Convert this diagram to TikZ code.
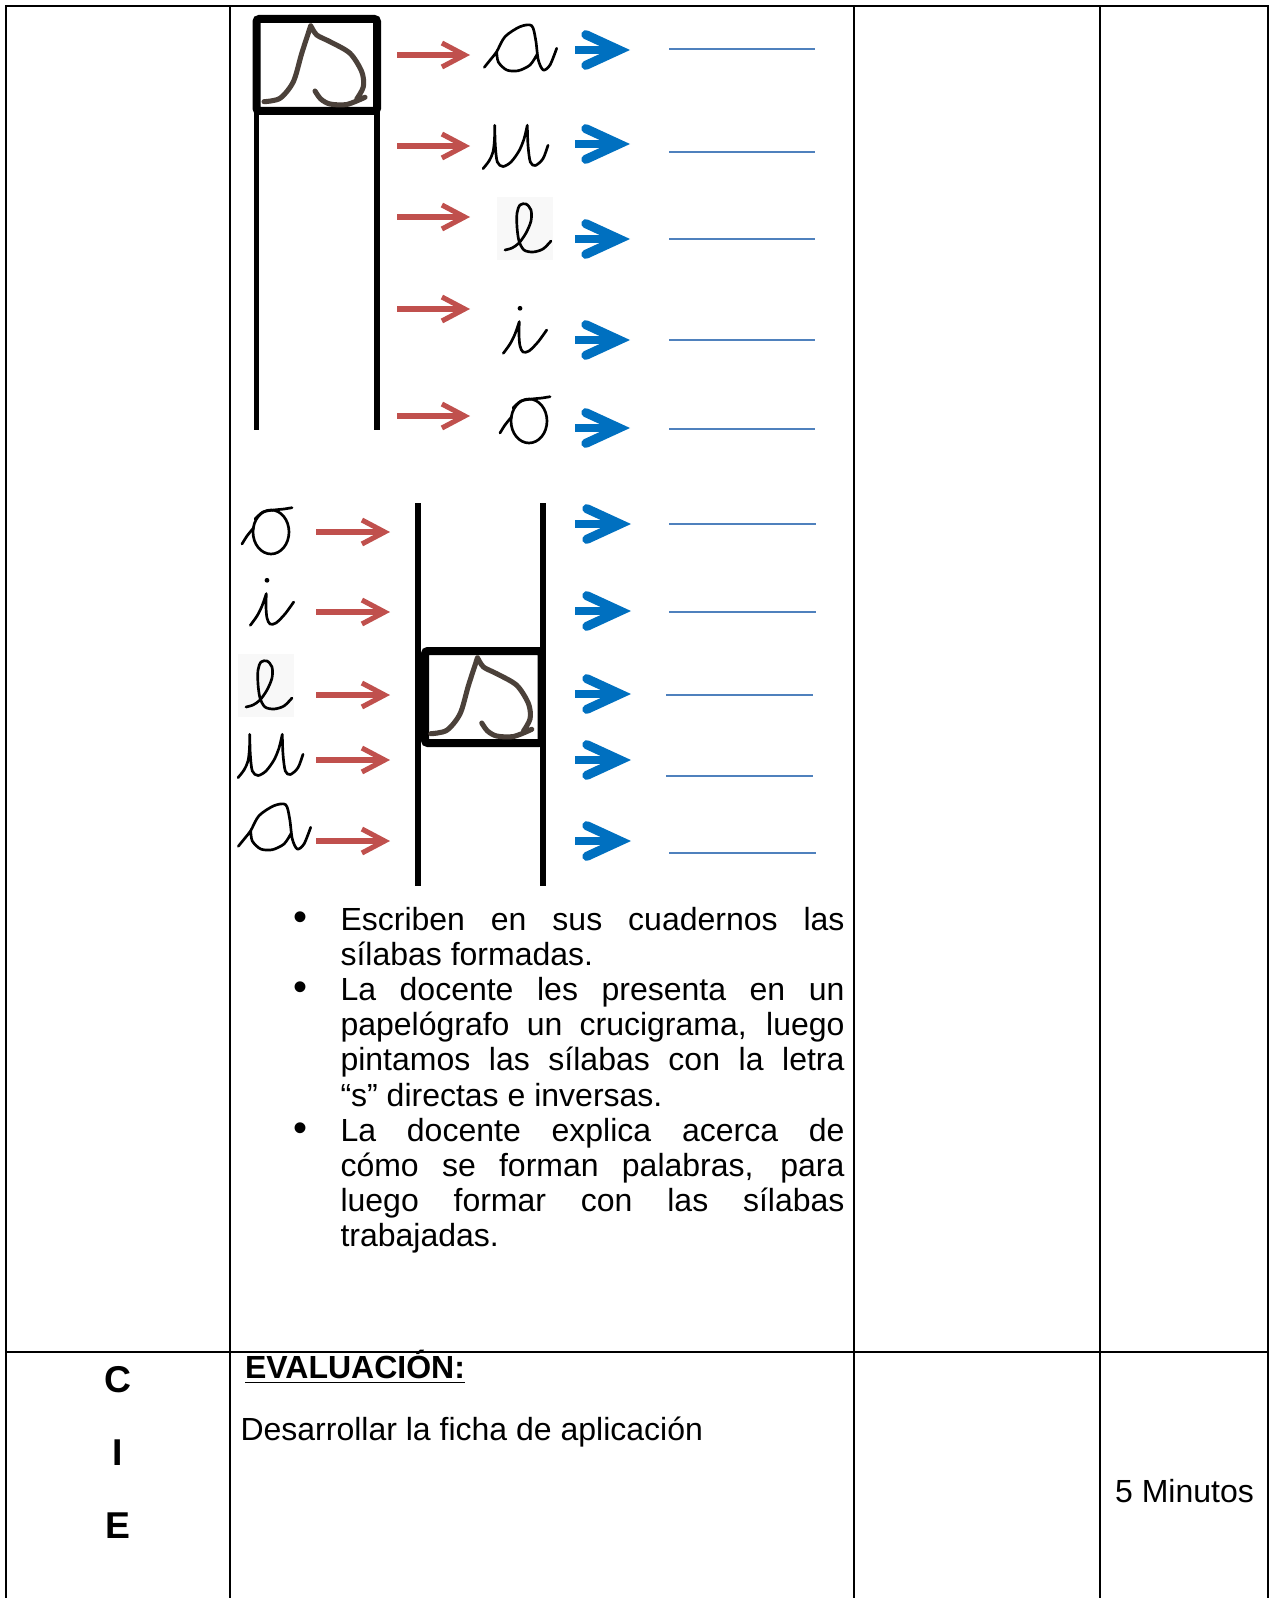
\documentclass[tikz,border=0pt]{standalone}
\usepackage{fontspec}
\setmainfont{Liberation Sans}
\usetikzlibrary{arrows.meta}
\definecolor{flecharoja}{RGB}{192,80,77}
\definecolor{flechaazul}{RGB}{0,112,192}
\definecolor{lineaazul}{RGB}{79,129,189}
\definecolor{tinta}{RGB}{75,65,58}
\definecolor{fondo}{RGB}{248,248,248}
\tikzset{
  tabla/.style={line width=0.75pt},
  marco/.style={line width=3pt, rounded corners=1pt},
  barra/.style={line width=2pt},
  rojo/.style={line width=1.9pt, draw=flecharoja,
               -{Straight Barb[length=8.5pt, width=9pt]}},
  azul/.style={line width=3pt, draw=flechaazul,
               -{Straight Barb[length=12.5pt, width=11.5pt, line width=3.4pt,
                 line cap=round]}},
  renglon/.style={line width=0.8pt, draw=lineaazul},
  trazo/.style={line width=1pt, line cap=round, line join=round},
  texto/.style={inner sep=0pt, font=\fontsize{12}{13.2}\selectfont},
  letrero/.style={inner sep=0pt, font=\fontsize{14}{14}\selectfont\bfseries},
  % letras cursivas (origen arriba a la izquierda)
  letra a/.pic={
    \draw[trazo] plot[smooth] coordinates {(1.3,42.3) (8,34) (13.7,26.7)
        (22,11.7) (37,1.7) (48.7,0.7) (52.7,15) (55.3,35) (60.3,45) (67,40)
        (73.7,23.3)}
      plot[smooth] coordinates {(13.7,26.7) (15.3,37) (23.7,45) (35.3,45.7)
        (47,40) (53.7,30)};
  },
  letra u/.pic={
    \draw[trazo] plot[smooth] coordinates {(-1,47.7) (5,40) (9,31) (10.5,18)
        (10.7,4.3)}
      plot[smooth] coordinates {(10.7,4.3) (11.3,24.3) (13.3,41) (19,45.5)
        (27,41) (35,30) (40,18) (43.3,4.3)}
      plot[smooth] coordinates {(43.3,4.3) (44,24.3) (46.3,41) (51.3,44.5)
        (59,37.7) (64,24.3)};
  },
  letra l/.pic={
    \fill[fondo] (-8,-6) rectangle (48,57);
    \draw[trazo] plot[smooth] coordinates {(0,47) (7,45) (14,40) (21,30)
        (26,18) (26,7) (21,1) (15,2) (12,10) (12,24) (14,38) (19,47) (28,49)
        (38,46) (46,38)};
  },
  letra i/.pic={
    \fill (18,9.3) circle (0.9pt);
    \draw[trazo] plot[smooth] coordinates {(1.3,54.3) (8,45) (13,35)
        (17.3,22.7)}
      plot[smooth] coordinates {(17.3,22.7) (17,36) (18,47) (21,53) (27,52)
        (36,43) (44.7,31)};
  },
  letra o/.pic={
    \draw[trazo] (30,25) circle [x radius=18, y radius=22];
    \draw[trazo] plot[smooth] coordinates {(1,37) (6,29) (12.7,20.7)}
      plot[smooth] coordinates {(14,12) (22,5) (33,3) (43,2) (51,0.7)};
  },
  % letra s (origen en el centro del recuadro)
  letra s/.pic={
    \draw[tinta, line width=1.9pt, line cap=round, line join=round]
      plot[smooth] coordinates {(-52.75,36.7) (-36.75,33.3) (-23.4,16.7)
        (-15,-11.7) (-6,-39.3)}
      plot[smooth] coordinates {(-6,-39.3) (0,-30) (13.25,-23.3) (33.25,-11.7)
        (45,6.7) (46.6,21.7) (40,34)}
      plot[smooth] coordinates {(-1.75,26) (4,34) (13.25,39) (30,39.5)
        (48.25,32.3)};
  },
}
\newcommand{\vineta}{\noindent\llap{{\fontsize{15}{13.2}\selectfont\textbullet}\hspace{12.5pt}}}

\begin{document}
\begin{tikzpicture}[x=0.375pt, y=-0.375pt]
  \useasboundingbox (0,0) rectangle (1274,1598);

  % cuadro
  \draw[tabla] (6,1598) -- (6,6) -- (1268,6) -- (1268,1598);
  \foreach \x in {230,854,1100}
    \draw[tabla] (\x,6) -- (\x,1598);
  \draw[line width=1.1pt] (6,1352) -- (1268,1352);

  % silabas directas
  \draw[marco] (256.5,19) rectangle (377,111);
  \draw[barra] (256.5,111) -- (256.5,430);
  \draw[barra] (377,111) -- (377,430);
  \pic at (316.75,65) {letra s};

  \pic at (483,25) {letra a};
  \pic at (484,121) {letra u};
  \pic at (505,203) {letra l};
  \pic at (502,299) {letra i};
  \pic at (499,396) {letra o};

  \foreach \y in {55,146,217,309,416}
    \draw[rojo] (397,\y) -- (470,\y);
  \foreach \y in {50,144,239,340,428}
    \draw[azul] (575,\y) -- (630,\y);
  \foreach \y in {49,152,239,340,429}
    \draw[renglon] (669,\y) -- (815,\y);

  % silabas inversas
  \draw[barra] (418,503) -- (418,886);
  \draw[barra] (543,503) -- (543,886);
  \draw[marco, fill=white] (425,651) rectangle (541.5,743);
  \pic at (483.5,697) {letra s};

  \pic at (241,507) {letra o};
  \pic at (249,571) {letra i};
  \pic at (246,660) {letra l};
  \pic at (239,730) {letra u};
  \pic at (237,804) {letra a};

  \foreach \y in {532,612,695,760,841}
    \draw[rojo] (316,\y) -- (390,\y);
  \foreach \y in {524,611,694,760,841}
    \draw[azul] (575,\y) -- (631,\y);
  \foreach \y/\a in {524/669, 612/669, 695/666, 776/666, 853/669}
    \draw[renglon] (\a,\y) -- ++(147,0);

  % actividades
  \node[texto, anchor=north west, text width=189pt, align=justify]
    (pasos) at (340,906.3) {%
    \vineta Escriben en sus cuadernos las\linebreak
    sílabas formadas.\par
    \vineta La docente les presenta en un\linebreak
    papelógrafo un crucigrama, luego\linebreak
    pintamos las sílabas con la letra\linebreak
    “s” directas e inversas.\par
    \vineta La docente explica acerca de\linebreak
    cómo se forman palabras, para\linebreak
    luego formar con las sílabas\linebreak
    trabajadas.};

  % cierre
  \node[letrero, anchor=base] (letc) at (117.5,1392) {C};
  \node[letrero, anchor=base] (leti) at (117.5,1465) {I};
  \node[letrero, anchor=base] (lete) at (117.5,1538) {E};

  \node[texto, font=\fontsize{12}{13.2}\selectfont\bfseries, anchor=base west]
    (evaluacion) at (244.6,1378) {\underline{EVALUACIÓN:}};
  \node[texto, anchor=base west] (ficha) at (240,1440)
    {Desarrollar la ficha de aplicación};
  \node[texto, anchor=base] (tiempo) at (1184.5,1502) {5 Minutos};
\end{tikzpicture}
\end{document}
